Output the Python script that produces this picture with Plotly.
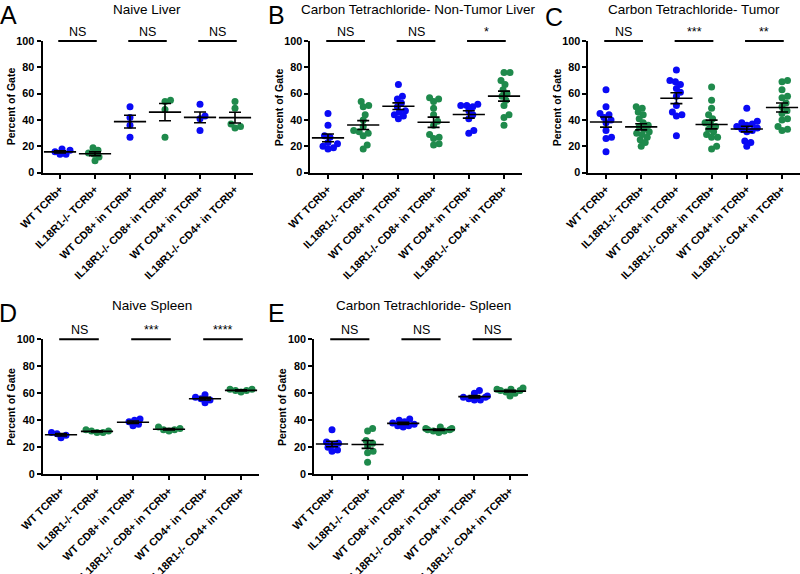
import numpy as np
import plotly.graph_objects as go

categories = ["WT TCRb+", "IL18R1-/- TCRb+", "WT CD8+ in TCRb+",
              "IL18R1-/- CD8+ in TCRb+", "WT CD4+ in TCRb+", "IL18R1-/- CD4+ in TCRb+"]
y_ticks = [0, 20, 40, 60, 80, 100]

# Panel A: Naive Liver
a_values = [
    [17, 14, 14, 18, 16],
    [19, 17, 15, 14, 12, 9],
    [50, 42, 36, 27],
    [55, 54, 48, 27],
    [52, 43, 41, 32],
    [54, 49, 37, 35, 34],
]
# Panel B: Carbon Tetrachloride- Non-Tumor Liver
b_values = [
    [45, 36, 28, 27, 23, 20, 18, 19, 22],
    [54, 51, 50, 44, 40, 35, 32, 31, 30, 28, 21, 18],
    [67, 58, 56, 53, 50, 47, 46, 44, 43, 41],
    [57, 56, 54, 49, 44, 39, 36, 29, 27, 26, 22, 21],
    [52, 51, 51, 50, 47, 44, 41, 32, 30],
    [76, 76, 70, 67, 63, 60, 58, 55, 51, 44, 42, 36],
]
# Panel C: Carbon Tetrachloride- Tumor
c_values = [
    [63, 50, 45, 44, 42, 40, 38, 32, 27, 26, 16],
    [50, 49, 46, 44, 41, 38, 36, 35, 33, 31, 30, 29, 27, 25, 23, 20],
    [78, 70, 69, 67, 64, 61, 58, 51, 46, 44, 43, 28],
    [65, 55, 49, 44, 41, 38, 37, 35, 33, 31, 29, 27, 27, 20, 18],
    [49, 39, 38, 37, 36, 35, 34, 33, 32, 31, 24, 23, 20],
    [70, 69, 63, 58, 57, 53, 50, 47, 45, 41, 40, 35, 33, 32],
]
# Panel D: Naive Spleen
d_values = [
    [31, 30, 29, 27],
    [33, 32, 31, 32, 31],
    [41, 40, 39, 37, 36],
    [35, 34, 33, 33, 32],
    [59, 57, 56, 55, 53],
    [63, 63, 62, 62, 61],
]
# Panel E: Carbon Tetrachloride- Spleen
e_values = [
    [33, 24, 23, 22, 20, 18, 17],
    [34, 32, 25, 23, 21, 17, 16, 9],
    [41, 40, 39, 38, 37, 36, 36, 35],
    [35, 34, 34, 33, 33, 32, 32, 31],
    [62, 60, 58, 57, 57, 56, 55, 55],
    [64, 63, 63, 62, 62, 61, 60, 58],
]

titles = ["Naive Liver", "Carbon Tetrachloride- Non-Tumor Liver", "Carbon Tetrachloride- Tumor",
          "Naive Spleen", "Carbon Tetrachloride- Spleen"]
letters = ["A", "B", "C", "D", "E"]
sig_labels = [
    ["NS", "NS", "NS"],
    ["NS", "NS", "*"],
    ["NS", "***", "**"],
    ["NS", "***", "****"],
    ["NS", "NS", "NS"],
]
panels = [a_values, b_values, c_values, d_values, e_values]

# ---------- layout geometry (screen pixels) ----------
W, H = 800, 574
BLUE = "#0a0af5"
GREEN = "#1f8a4c"
FONT = "Liberation Sans"


def px_x(v):
    return v / W


def px_y(v):
    return 1 - v / H


top_row = (px_y(172.7), px_y(41))
bot_row = (px_y(474.3), px_y(339.3))
x_domains = [
    (px_x(42.5), px_x(252.5)),
    (px_x(310.4), px_x(521.6)),
    (px_x(588.4), px_x(799.6)),
    (px_x(43), px_x(259)),
    (px_x(314.2), px_x(527.8)),
]
y_domains = [top_row, top_row, top_row, bot_row, bot_row]
title_pos = [(147, 10), (418, 10), (694, 10), (152, 305), (423, 305)]
letter_pos = [(8, 15), (276, 15), (554, 17), (8, 313), (276, 313)]

DIAM = 5.6
MAX_SPREAD = 13.0


def swarm(values, sx, sy, diam):
    placed = []
    out = [0.0] * len(values)
    order = sorted(range(len(values)), key=lambda i: values[i])
    for i in order:
        ypx = values[i] * sy
        chosen = None
        k = 0
        while chosen is None:
            for sgn in ([0] if k == 0 else [1, -1]):
                xpx = sgn * k * 0.5
                if all((xpx - a) ** 2 + (ypx - b) ** 2 >= diam ** 2 for a, b in placed):
                    chosen = xpx
                    break
            k += 1
        chosen = max(-MAX_SPREAD, min(MAX_SPREAD, chosen))
        placed.append((chosen, ypx))
        out[i] = chosen / sx
    return out


fig = go.Figure()
shapes = []
annotations = []

for p, vals in enumerate(panels):
    xa = "x" if p == 0 else f"x{p + 1}"
    ya = "y" if p == 0 else f"y{p + 1}"
    xd, yd = x_domains[p], y_domains[p]
    sx = (xd[1] - xd[0]) * W / 6.0
    sy = (yd[1] - yd[0]) * H / 100.0
    for g, v in enumerate(vals):
        col = BLUE if g % 2 == 0 else GREEN
        offs = swarm(v, sx, sy, DIAM)
        fig.add_trace(go.Scatter(
            x=[g + o for o in offs], y=v, mode="markers", xaxis=xa, yaxis=ya,
            marker=dict(color=col, size=7, line=dict(width=0)),
            showlegend=False, hoverinfo="skip"))
        arr = np.array(v, dtype=float)
        mean = arr.mean()
        sem = arr.std(ddof=1) / np.sqrt(len(arr))
        fig.add_trace(go.Scatter(
            x=[g], y=[mean], mode="markers", xaxis=xa, yaxis=ya,
            marker=dict(symbol="line-ew", size=23, color="black",
                        line=dict(width=1.6, color="black")),
            error_y=dict(type="data", array=[sem], color="black", thickness=1.6, width=6),
            showlegend=False, hoverinfo="skip"))
    # significance bars
    for k in range(3):
        shapes.append(dict(type="line", xref=xa, yref="paper",
                           x0=2 * k - 0.05, x1=2 * k + 1.05, y0=yd[1], y1=yd[1],
                           line=dict(color="black", width=2)))
        annotations.append(dict(x=2 * k + 0.5, y=yd[1], xref=xa, yref="paper",
                                text=sig_labels[p][k], showarrow=False,
                                yanchor="bottom", yshift=0,
                                font=dict(family=FONT, size=12.5, color="black")))
    # titles, letters, y-title
    tx, ty = title_pos[p]
    annotations.append(dict(x=px_x(tx), y=px_y(ty), xref="paper", yref="paper",
                            text=titles[p], showarrow=False, xanchor="center", yanchor="middle",
                            font=dict(family=FONT, size=13.5, color="black")))
    lx, ly = letter_pos[p]
    annotations.append(dict(x=px_x(lx), y=px_y(ly), xref="paper", yref="paper",
                            text=letters[p], showarrow=False, xanchor="center", yanchor="middle",
                            font=dict(family=FONT, size=25, color="black")))
    annotations.append(dict(x=xd[0] - 32 / W, y=(yd[0] + yd[1]) / 2, xref="paper", yref="paper",
                            text="Percent of Gate", showarrow=False, textangle=-90,
                            xanchor="center", yanchor="middle",
                            font=dict(family=FONT, size=10.5, color="black", weight="bold")))

    axis_common = dict(showline=True, linecolor="black", linewidth=2, ticks="outside",
                       ticklen=4, tickwidth=2, tickcolor="black", showgrid=False,
                       zeroline=False, automargin=False,
                       tickfont=dict(family=FONT, size=10.8, color="black", weight="bold"))
    xkey = "xaxis" if p == 0 else f"xaxis{p + 1}"
    ykey = "yaxis" if p == 0 else f"yaxis{p + 1}"
    fig.update_layout(**{
        xkey: dict(domain=list(xd), anchor=ya, range=[-0.5, 5.5], tickmode="array",
                   tickvals=list(range(6)), ticktext=categories, tickangle=-45,
                   **axis_common),
        ykey: dict(domain=list(yd), anchor=xa, range=[0, 100], tickmode="array",
                   tickvals=y_ticks, ticktext=[str(t) for t in y_ticks],
                   **axis_common),
    })

fig.update_layout(template="none", width=W, height=H, margin=dict(l=0, r=0, t=0, b=0),
                  plot_bgcolor="white", paper_bgcolor="white",
                  shapes=shapes, annotations=annotations, showlegend=False)
fig.write_html("out.html", config={"displayModeBar": False},
               post_script="document.body.style.margin='0';document.body.style.padding='0';")
